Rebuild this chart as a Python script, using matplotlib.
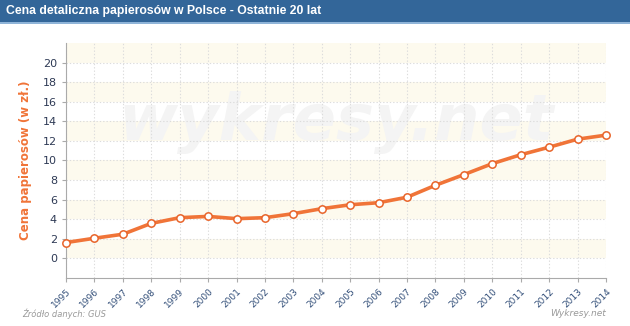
import matplotlib
matplotlib.use("Agg")
import matplotlib.pyplot as plt
from matplotlib.patches import Rectangle

# Average retail price of cigarettes in Poland (PLN), 1995-2014
years = list(range(1995, 2015))
prices = [1.62, 2.06, 2.47, 3.58, 4.16, 4.29, 4.06, 4.16, 4.57, 5.08,
          5.48, 5.69, 6.25, 7.47, 8.56, 9.68, 10.59, 11.36, 12.18, 12.59]
y_ticks = list(range(0, 21, 2))

title = "Cena detaliczna papierosów w Polsce - Ostatnie 20 lat"
y_label = "Cena papierosów (w zł.)"
source = "Źródło danych: GUS"
brand = "Wykresy.net"
watermark = "wykresy.net"

W, H = 630, 326
fig = plt.figure(figsize=(W / 100, H / 100), dpi=100)
fig.patch.set_facecolor("white")

# header bar
fig.patches.append(Rectangle((0, 1 - 22 / H), 1, 22 / H, transform=fig.transFigure,
                             facecolor="#336699", edgecolor="none", zorder=0))
fig.patches.append(Rectangle((0, 1 - 24 / H), 1, 2 / H, transform=fig.transFigure,
                             facecolor="#8fb4d8", edgecolor="none", zorder=0))
fig.text(6 / W, 1 - 11 / H, title, color="white", fontsize=8.8,
         fontweight="bold", family=["Liberation Sans", "DejaVu Sans"],
         va="center", ha="left")

left, right, top, bottom = 66, 606, 43, 278
ax = fig.add_axes([left / W, 1 - bottom / H, (right - left) / W, (bottom - top) / H])
ax.set_xlim(years[0], years[-1])
ax.set_ylim(-2, 22)

# alternating background bands
for lo in range(0, 22, 4):
    ax.axhspan(lo, lo + 2, facecolor="#fdfaee", edgecolor="none", zorder=0)

ax.set_yticks(y_ticks)
ax.set_xticks(years)
ax.grid(True, color="#dcdcdc", linestyle=(0, (1.2, 1.8)), linewidth=0.8, zorder=1)

ax.text(0.5, 0.66, watermark, transform=ax.transAxes, ha="center", va="center",
        fontsize=46, fontweight="bold", style="italic", color="#f4f4f4", zorder=1)

ax.plot(years, prices, color="#f07438", linewidth=2.6, zorder=3,
        marker="o", markersize=5.3, markerfacecolor="white",
        markeredgecolor="#e8642a", markeredgewidth=1.1, clip_on=False)

for s in ["top", "right"]:
    ax.spines[s].set_visible(False)
ax.spines["left"].set_color("#aaaaaa")
ax.spines["bottom"].set_color("#aaaaaa")
ax.tick_params(axis="both", colors="#aaaaaa", length=3, width=0.8)
ax.tick_params(axis="y", labelsize=8, labelcolor="#2e3a55")
ax.tick_params(axis="x", labelsize=6.5, labelcolor="#34507a")
for lbl in ax.get_xticklabels():
    lbl.set_rotation(45)
    lbl.set_ha("right")
    lbl.set_rotation_mode("anchor")

ax.set_ylabel(y_label, color="#f07438", fontsize=8.5, fontweight="bold", labelpad=8)

fig.text(22 / W, 1 - 314 / H, source, color="#999999", fontsize=6, style="italic",
         va="center", ha="left")
fig.text(606 / W, 1 - 314 / H, brand, color="#999999", fontsize=6.5, style="italic",
         va="center", ha="right")

fig.savefig("out.png", dpi=100)
